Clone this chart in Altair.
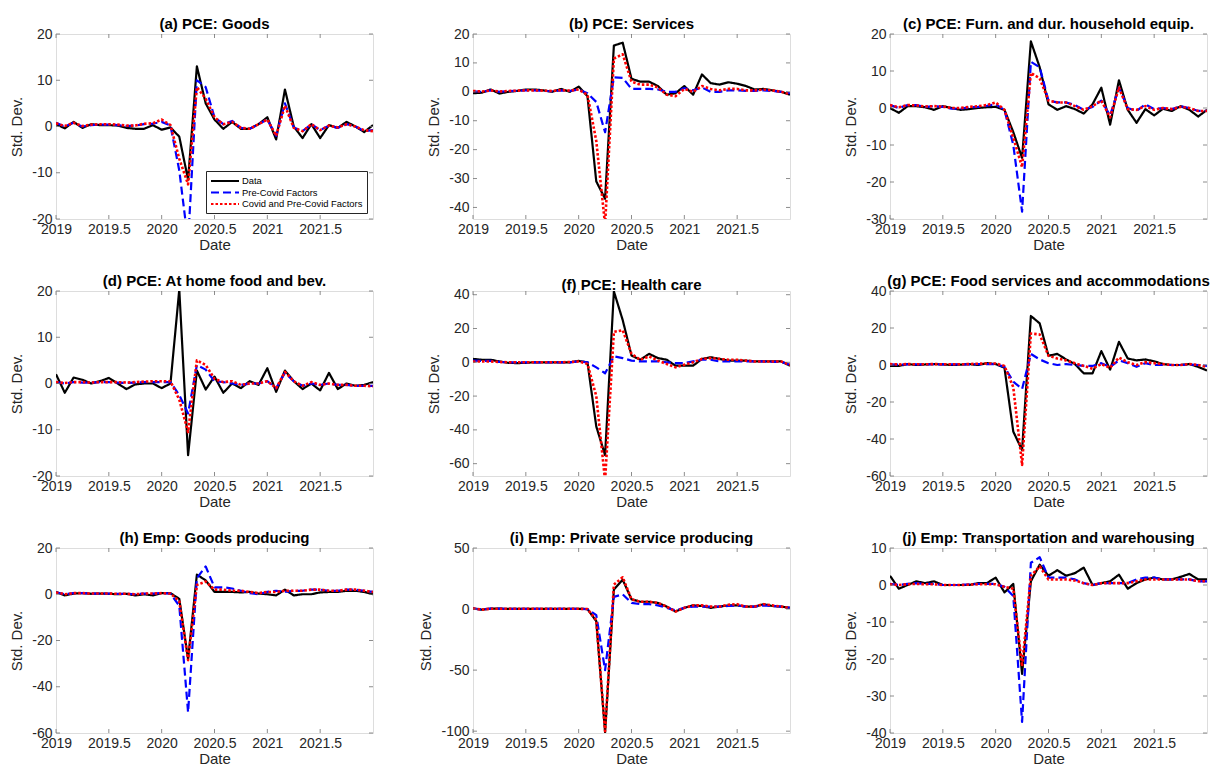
import altair as alt
import pandas as pd

# ---------------- data ----------------
MONTHS = [2019.0, 2019.0833, 2019.1667, 2019.25, 2019.3333, 2019.4167, 2019.5, 2019.5833,
          2019.6667, 2019.75, 2019.8333, 2019.9167, 2020.0, 2020.0833, 2020.1667, 2020.25,
          2020.3333, 2020.4167, 2020.5, 2020.5833, 2020.6667, 2020.75, 2020.8333, 2020.9167,
          2021.0, 2021.0833, 2021.1667, 2021.25, 2021.3333, 2021.4167, 2021.5, 2021.5833,
          2021.6667, 2021.75, 2021.8333, 2021.9167, 2022.0]

SERIES = ["Data", "Pre-Covid Factors", "Covid and Pre-Covid Factors"]
X_TICKS = [2019, 2019.5, 2020, 2020.5, 2021, 2021.5]

TITLES = ["(a) PCE: Goods", "(b) PCE: Services", "(c) PCE: Furn. and dur. household equip.",
          "(d) PCE: At home food and bev.", "(f) PCE: Health care",
          "(g) PCE: Food services and accommodations",
          "(h) Emp: Goods producing", "(i) Emp: Private service producing",
          "(j) Emp: Transportation and warehousing"]

a_data = [0.5, -0.4, 1.0, -0.3, 0.5, 0.3, 0.3, 0.2, -0.3, -0.5, -0.5, 0.3, -0.7, -0.2, -2.2, -11.5, 13.0, 5.0, 1.5, -0.5, 1.0, -0.5, -0.5, 0.5, 2.0, -2.8, 8.0, 0.0, -2.5, 0.5, -2.5, 0.3, -0.3, 1.0, 0.0, -1.2, 0.3]
a_pre = [0.8, 0.0, 0.8, 0.0, 0.3, 0.4, 0.4, 0.3, 0.1, 0.2, 0.5, 0.6, 1.0, 0.2, -9.5, -25.0, 10.0, 8.5, 2.0, 0.5, 1.2, -0.3, -0.5, 0.5, 1.5, -2.0, 5.0, -0.2, -1.0, 0.5, -0.8, 0.2, -0.3, 0.5, 0.0, -1.0, -0.8]
a_cov = [0.7, 0.1, 0.8, 0.1, 0.4, 0.5, 0.5, 0.4, 0.2, 0.2, 0.6, 0.7, 1.5, 0.3, -7.0, -12.5, 8.5, 6.0, 2.0, 0.5, 1.0, -0.3, -0.5, 0.5, 1.5, -2.0, 4.5, -0.3, -1.0, 0.5, -0.8, 0.2, -0.2, 0.5, 0.0, -0.8, -1.0]

b_data = [-0.5, -0.3, 0.8, -0.6, 0.0, 0.3, 0.8, 0.8, 0.5, 0.0, 1.0, 0.0, 1.8, -1.5, -31.0, -37.0, 16.0, 17.0, 4.5, 3.5, 3.5, 2.0, -1.0, -0.5, 2.0, -1.0, 6.0, 3.0, 2.5, 3.3, 2.8, 2.0, 0.8, 1.0, 0.5, 0.0, -1.0]
b_pre = [0.2, 0.0, 0.5, 0.0, 0.2, 0.3, 0.5, 0.5, 0.3, 0.2, 0.5, 0.3, 0.8, -0.5, -3.5, -14.0, 5.0, 4.8, 1.0, 1.0, 1.0, 0.8, 0.0, 0.0, 1.3, 0.5, 1.5, 0.0, 0.0, 0.5, 0.5, 0.3, 0.3, 0.5, 0.3, 0.0, -0.5]
b_cov = [0.3, 0.1, 0.5, 0.1, 0.3, 0.4, 0.5, 0.5, 0.4, 0.3, 0.6, 0.4, 0.8, -1.0, -17.0, -46.0, 11.5, 13.0, 3.5, 2.5, 2.5, 1.5, -1.0, -1.5, 1.0, 0.0, 2.0, 1.0, 0.5, 1.0, 1.0, 0.5, 0.5, 0.8, 0.5, 0.0, -0.8]

c_data = [0.0, -1.3, 0.5, 0.5, 0.2, -0.5, 0.5, 0.0, -0.5, -0.3, 0.0, 0.2, 0.3, -0.5, -6.5, -13.5, 18.0, 11.0, 1.0, -0.5, 0.5, -0.3, -1.5, 1.0, 5.5, -4.5, 7.5, -0.5, -4.0, -0.3, -2.0, -0.2, -0.8, 0.5, -0.5, -2.3, -0.5]
c_pre = [0.8, 0.0, 0.8, 0.8, 0.3, 0.5, 0.3, -0.2, -0.2, 0.2, 0.3, 0.6, 1.0, -0.5, -10.0, -28.0, 12.5, 11.0, 2.0, 1.5, 1.5, 0.8, -0.5, 0.3, 2.0, -2.0, 5.5, 0.0, -0.8, 1.0, -0.3, 0.0, -0.3, 0.5, 0.0, -0.8, -0.8]
c_cov = [0.8, 0.2, 0.8, 0.7, 0.4, 0.5, 0.4, 0.0, 0.0, 0.3, 0.5, 0.8, 1.5, -0.5, -8.0, -16.0, 9.5, 8.0, 2.0, 1.5, 1.5, 0.5, -0.5, 0.5, 2.0, -2.5, 5.5, -0.3, -0.5, 0.5, -0.5, 0.0, -0.3, 0.3, 0.0, -0.8, -0.8]

d_data = [2.0, -2.0, 1.3, 0.8, 0.0, 0.5, 1.2, 0.0, -1.2, -0.2, 0.0, 0.0, -1.0, 0.0, 20.3, -15.5, 2.8, -1.3, 1.5, -2.0, 0.0, -1.0, 0.5, -0.3, 3.3, -1.8, 2.8, 0.5, -1.2, 0.0, -1.5, 2.3, -1.2, 0.0, -0.5, -0.3, 0.3]
d_pre = [0.3, 0.0, 0.3, 0.2, 0.2, 0.3, 0.3, 0.2, 0.1, 0.2, 0.3, 0.3, 0.3, 0.3, -2.5, -6.5, 4.0, 3.0, 0.5, 0.3, 0.0, -0.3, 0.0, 0.0, 0.5, -1.0, 2.3, 0.5, -0.5, 0.0, -0.3, 0.0, -0.3, -0.3, -0.5, -0.5, -0.5]
d_cov = [0.3, 0.1, 0.3, 0.3, 0.2, 0.3, 0.3, 0.3, 0.2, 0.3, 0.4, 0.5, 0.5, 0.5, -3.5, -10.5, 5.0, 4.0, 1.0, 0.3, 0.5, -0.3, 0.0, 0.0, 0.5, -1.0, 2.5, 0.5, -0.5, 0.3, -0.3, 0.0, -0.3, -0.3, -0.5, -0.5, -0.6]

f_data = [2.0, 1.5, 1.5, 0.5, -0.3, -0.5, -0.3, 0.0, 0.0, 0.0, 0.0, 0.0, 0.8, 0.0, -38.0, -55.0, 42.0, 25.0, 4.0, 1.5, 5.0, 2.5, 1.5, -2.0, -2.0, -2.0, 2.0, 3.0, 2.0, 1.0, 1.0, 1.0, 0.5, 0.5, 0.5, 0.5, -2.0]
f_pre = [1.0, 0.8, 0.8, 0.3, 0.0, 0.0, 0.0, 0.0, 0.0, 0.0, 0.0, 0.0, 0.5, 0.0, -3.0, -6.5, 3.5, 2.5, 1.0, 0.5, 0.5, 0.5, 0.0, -0.5, -0.5, 0.5, 1.5, 1.5, 0.5, 0.5, 0.5, 0.5, 0.5, 0.5, 0.3, 0.3, -1.5]
f_cov = [0.5, 0.5, 0.5, 0.2, 0.0, 0.0, 0.0, 0.0, 0.0, 0.0, 0.0, 0.2, 0.5, -1.0, -20.0, -70.0, 18.0, 19.0, 5.0, 1.5, 3.5, 1.0, -1.0, -3.0, -1.5, 0.0, 2.0, 2.5, 2.0, 1.5, 1.5, 1.0, 0.5, 0.5, 0.5, 0.5, -1.5]

g_data = [-0.5, -0.5, 0.5, 0.0, 0.3, 0.5, 0.3, 0.0, 0.2, 0.5, 0.0, 1.0, 0.5, -1.5, -36.0, -46.0, 26.5, 22.5, 5.0, 6.0, 3.0, 0.5, -4.5, -4.5, 7.5, -2.5, 12.5, 3.5, 2.5, 3.0, 2.0, 0.5, 0.0, 0.0, 0.5, -1.0, -3.0]
g_pre = [0.3, 0.2, 0.3, 0.3, 0.3, 0.4, 0.3, 0.3, 0.3, 0.3, 0.5, 0.5, 0.5, -1.0, -9.0, -13.0, 6.0, 3.0, 1.0, 0.0, 0.5, 0.0, -0.5, -0.5, 1.0, -1.0, 2.5, 1.0, -1.0, 1.0, 0.0, 0.0, 0.0, 0.0, 0.3, 0.0, -0.5]
g_cov = [0.5, 0.3, 0.5, 0.4, 0.4, 0.5, 0.4, 0.4, 0.4, 0.5, 0.7, 0.8, 0.8, -0.5, -12.0, -54.0, 17.0, 16.5, 5.0, 3.5, 2.5, 1.0, -0.5, -2.0, 0.5, -1.5, 4.0, 1.5, 0.0, 1.5, 1.0, 0.5, 0.0, 0.0, 0.5, 0.0, -1.0]

h_data = [1.0, -0.5, 0.3, 0.5, 0.2, 0.3, 0.2, 0.0, 0.2, -0.5, 0.0, -0.5, 0.5, 0.5, -2.0, -28.0, 8.5, 6.0, 1.0, 1.0, 1.0, 0.8, 1.0, 0.3, 0.0, -0.5, 2.0, -0.5, 0.0, 0.0, 0.8, 1.0, 1.0, 1.5, 1.5, 1.0, 0.0]
h_pre = [0.8, 0.0, 0.5, 0.5, 0.3, 0.3, 0.3, 0.2, 0.2, 0.0, 0.3, 0.3, 0.5, 0.3, -5.0, -51.0, 7.0, 12.0, 3.0, 3.0, 2.5, 1.5, 0.5, 0.0, 1.0, 1.5, 1.0, 1.5, 1.5, 2.0, 2.0, 1.5, 1.5, 2.0, 2.0, 1.5, 1.0]
h_cov = [0.8, 0.0, 0.5, 0.5, 0.3, 0.3, 0.3, 0.2, 0.2, 0.0, 0.3, 0.3, 0.5, 0.3, -3.0, -28.5, 4.0, 5.5, 2.0, 2.0, 1.5, 1.5, 1.0, 0.5, 1.0, 1.0, 1.5, 1.5, 1.5, 2.0, 2.0, 1.5, 1.5, 2.0, 2.0, 1.5, 1.0]

i_data = [0.5, -0.5, 0.3, 0.3, 0.2, 0.2, 0.2, 0.2, 0.2, 0.2, 0.2, 0.2, 0.2, 0.0, -10.0, -101.0, 16.0, 24.0, 8.0, 6.0, 6.0, 5.0, 2.0, -2.0, 1.0, 3.0, 2.5, 1.0, 2.0, 3.0, 3.0, 2.0, 2.0, 4.0, 2.5, 2.0, 1.0]
i_pre = [0.3, -0.3, 0.3, 0.3, 0.2, 0.2, 0.2, 0.2, 0.2, 0.2, 0.2, 0.2, 0.2, 0.0, -5.0, -50.0, 10.0, 12.0, 5.0, 4.0, 4.0, 3.0, 1.0, -1.0, 1.0, 2.0, 2.0, 2.0, 2.0, 2.5, 3.0, 2.0, 2.0, 3.0, 2.5, 2.0, 1.0]
i_cov = [0.5, -0.5, 0.3, 0.3, 0.2, 0.2, 0.2, 0.2, 0.2, 0.2, 0.2, 0.2, 0.2, 0.0, -9.0, -100.0, 20.0, 26.0, 8.0, 6.0, 6.0, 5.0, 2.0, -2.0, 1.0, 3.0, 3.0, 2.0, 2.0, 3.5, 4.0, 2.0, 2.0, 4.0, 3.0, 2.0, 1.0]

j_data = [2.5, -1.0, 0.0, 1.0, 0.5, 1.0, 0.0, 0.0, 0.0, 0.0, 0.5, 0.5, 2.0, -2.0, 0.3, -24.0, 1.0, 5.5, 2.5, 4.0, 2.5, 3.2, 4.7, 0.0, 0.5, 1.0, 2.8, -1.0, 0.5, 1.5, 2.0, 1.5, 1.5, 2.2, 3.0, 1.5, 1.5]
j_pre = [0.3, 0.0, 0.3, 0.5, 0.3, 0.3, 0.0, 0.0, 0.0, 0.2, 0.3, 0.3, 0.3, -0.5, -3.0, -37.0, 6.0, 7.5, 2.0, 2.0, 2.0, 1.5, 0.5, 0.0, 0.5, 0.5, 0.5, 0.5, 1.5, 2.0, 2.0, 1.5, 1.5, 1.5, 1.5, 1.0, 1.0]
j_cov = [0.2, 0.0, 0.2, 0.3, 0.2, 0.2, 0.0, 0.0, 0.0, 0.1, 0.2, 0.2, 0.2, -0.5, -1.0, -22.0, 2.5, 5.0, 1.5, 1.5, 1.5, 1.2, 0.5, 0.0, 0.5, 0.5, 0.5, 0.5, 1.0, 1.5, 1.5, 1.5, 1.5, 1.5, 1.5, 1.0, 1.0]

Y_DOMAINS = [[-20, 20], [-44, 20], [-30, 20], [-20, 20], [-67.3, 42.2], [-60, 40],
             [-60, 20], [-101.5, 50], [-40, 10]]
Y_TICKS = [[-20, -10, 0, 10, 20], [-40, -30, -20, -10, 0, 10, 20], [-30, -20, -10, 0, 10, 20],
           [-20, -10, 0, 10, 20], [-60, -40, -20, 0, 20, 40], [-60, -40, -20, 0, 20, 40],
           [-60, -40, -20, 0, 20], [-100, -50, 0, 50], [-40, -30, -20, -10, 0, 10]]
PANEL_SERIES = [(a_data, a_pre, a_cov), (b_data, b_pre, b_cov), (c_data, c_pre, c_cov),
                (d_data, d_pre, d_cov), (f_data, f_pre, f_cov), (g_data, g_pre, g_cov),
                (h_data, h_pre, h_cov), (i_data, i_pre, i_cov), (j_data, j_pre, j_cov)]

# ---------------- style ----------------
W, H = 317, 185
FONT = "Liberation Sans"
TXT = "#262626"
AXC = "#6e6e6e"
COLORS = ["#000000", "#0000ff", "#ff0000"]
DASHES = [[1, 0], [8, 4], [2.5, 2]]
WIDTHS = [2.2, 2.2, 2.6]


def panel(k):
    title = TITLES[k]
    dat, pre, cov = PANEL_SERIES[k]
    rows = []
    for s, vals in zip(SERIES, (dat, pre, cov)):
        for m, v in zip(MONTHS, vals):
            rows.append({"date": m, "value": v, "series": s})
    df = pd.DataFrame(rows)

    xscale = alt.Scale(domain=[2019, 2022], nice=False, zero=False)
    yscale = alt.Scale(domain=Y_DOMAINS[k], nice=False, zero=False)
    xaxis = alt.Axis(values=X_TICKS, title="Date", labelExpr="'' + datum.value",
                     labelFlush=False, labelOverlap=False, ticks=False, tickSize=0,
                     domain=False, grid=False, labelPadding=3, titlePadding=1,
                     labelFont=FONT, labelFontSize=14, labelColor=TXT,
                     titleFont=FONT, titleFontSize=15, titleFontWeight="normal",
                     titleColor=TXT)
    yaxis = alt.Axis(values=Y_TICKS[k], title="Std. Dev.", labelExpr="'' + datum.value",
                     labelOverlap=False, ticks=False, tickSize=0, domain=False,
                     grid=False, labelPadding=4, titlePadding=7,
                     labelFont=FONT, labelFontSize=14, labelColor=TXT,
                     titleFont=FONT, titleFontSize=15, titleFontWeight="normal",
                     titleColor=TXT)

    if k == 0:
        leg = alt.Legend(title=None, orient="bottom-right", offset=6,
                         fillColor="white", strokeColor="#262626", padding=4,
                         labelFont=FONT, labelFontSize=9.4, labelColor="black",
                         symbolType="M-2.8,0H2.8", symbolSize=100, symbolOffset=9,
                         labelOffset=11, symbolStrokeWidth=2, rowPadding=0.5)
    else:
        leg = None

    layers = []
    for idx, s in enumerate(SERIES):
        ln = alt.Chart(df).transform_filter(alt.datum.series == s).mark_line(
            clip=True, strokeWidth=WIDTHS[idx], strokeCap="butt", strokeJoin="round"
        ).encode(
            x=alt.X("date:Q", scale=xscale, axis=xaxis),
            y=alt.Y("value:Q", scale=yscale, axis=yaxis),
            color=alt.Color("series:N", scale=alt.Scale(domain=SERIES, range=COLORS), legend=leg),
            strokeDash=alt.StrokeDash("series:N", scale=alt.Scale(domain=SERIES, range=DASHES),
                                      legend=leg),
        )
        layers.append(ln)

    # inward ticks (MATLAB style) on all four sides
    xt = pd.DataFrame({"date": X_TICKS})
    yt = pd.DataFrame({"value": Y_TICKS[k]})
    tick_style = dict(color=AXC, strokeWidth=0.8)
    xb = alt.Chart(xt).mark_rule(**tick_style).encode(
        x=alt.X("date:Q", scale=xscale, axis=xaxis), y=alt.value(H), y2=alt.value(H - 4))
    xtop = alt.Chart(xt).mark_rule(**tick_style).encode(
        x=alt.X("date:Q", scale=xscale, axis=xaxis), y=alt.value(0), y2=alt.value(4))
    yl = alt.Chart(yt).mark_rule(**tick_style).encode(
        y=alt.Y("value:Q", scale=yscale, axis=yaxis), x=alt.value(0), x2=alt.value(4))
    yr = alt.Chart(yt).mark_rule(**tick_style).encode(
        y=alt.Y("value:Q", scale=yscale, axis=yaxis), x=alt.value(W), x2=alt.value(W - 4))

    return alt.layer(*layers, xb, xtop, yl, yr).properties(
        width=W, height=H,
        title=alt.TitleParams(title, font=FONT, fontSize=15, fontWeight="bold",
                              color="black", offset=-5, anchor="middle", frame="group"),
    )


charts = [panel(k) for k in range(9)]

chart = alt.concat(*charts, columns=3, spacing={"row": 72, "column": 100},
                   bounds="flush").resolve_scale(
    x="independent", y="independent", color="independent", strokeDash="independent"
).resolve_legend(color="independent", strokeDash="independent").properties(
    padding={"left": 9, "top": 16, "right": 0, "bottom": 0}
).configure_view(
    stroke=AXC, strokeWidth=1
).configure(background="white")

chart.save("out.html", embed_options={"renderer": "svg", "actions": False})
